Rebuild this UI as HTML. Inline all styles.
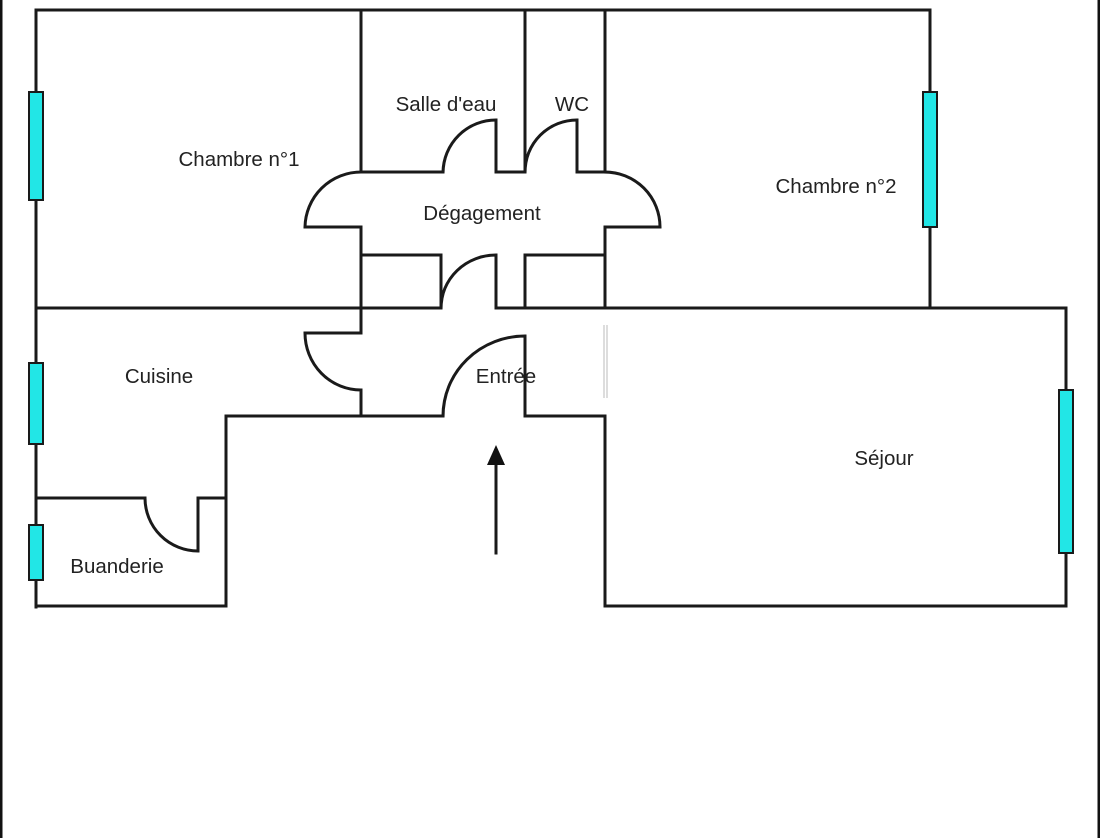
<!DOCTYPE html>
<html><head><meta charset="utf-8"><style>
html,body{margin:0;padding:0;background:#fff;}
svg{display:block;}
text{font-family:"Liberation Sans",sans-serif;font-size:20.5px;fill:#222;text-anchor:middle;}
</style></head><body>
<svg width="1100" height="838" viewBox="0 0 1100 838" xmlns="http://www.w3.org/2000/svg">
<rect x="0" y="0" width="1100" height="838" fill="#fff"/>
<line x1="1" y1="0" x2="1" y2="838" stroke="#111" stroke-width="3"/>
<line x1="1099" y1="0" x2="1099" y2="838" stroke="#111" stroke-width="3"/>
<g fill="none" stroke="#1a1a1a" stroke-width="3" stroke-linecap="square">
<path d="M36 607 V10 H930 V308"/>
<path d="M605 308 H1066 V606 H605 V416"/>
<path d="M36 606 H226 V416 H361"/>
<path d="M361 10 V172"/><path d="M525 10 V172"/><path d="M605 10 V172"/>
<path d="M361 172 H443"/>
<path d="M443 172 A53 53 0 0 1 496 120 V172 H525"/>
<path d="M525 172 A52 52 0 0 1 577 120 V172 H605"/>
<path d="M361 172 A56 56 0 0 0 305 227 H361 V308"/>
<path d="M605 172 A55 55 0 0 1 660 227 H605 V308"/>
<path d="M361 255 H441 V308"/>
<path d="M441 308 A55 53 0 0 1 496 255 V308"/>
<path d="M525 308 V255 H605"/>
<path d="M36 308 H441"/>
<path d="M496 308 H605"/>
<path d="M361 308 V333 H305 A56 57 0 0 0 361 390 V416 H443"/>
<path d="M443 416 A82 80 0 0 1 525 336 V416 H605"/>
<path d="M36 498 H145 A53 53 0 0 0 198 551 V498 H226"/>
<path d="M496 553 V462"/>
</g>
<line x1="604" y1="325" x2="604" y2="398" stroke="#bbb" stroke-width="1"/>
<line x1="607" y1="325" x2="607" y2="398" stroke="#bbb" stroke-width="1"/>
<polygon points="496,445 487,465 505,465" fill="#111"/>
<g fill="#22e6e6" stroke="#1a1a1a" stroke-width="2">
<rect x="29" y="92" width="14" height="108"/>
<rect x="29" y="363" width="14" height="81"/>
<rect x="29" y="525" width="14" height="55"/>
<rect x="923" y="92" width="14" height="135"/>
<rect x="1059" y="390" width="14" height="163"/>
</g>
<text x="239" y="166">Chambre n°1</text>
<text x="446" y="111">Salle d'eau</text>
<text x="572" y="111">WC</text>
<text x="482" y="220">Dégagement</text>
<text x="836" y="193">Chambre n°2</text>
<text x="159" y="383">Cuisine</text>
<text x="506" y="383">Entrée</text>
<text x="884" y="465">Séjour</text>
<text x="117" y="573">Buanderie</text>
</svg>
</body></html>
